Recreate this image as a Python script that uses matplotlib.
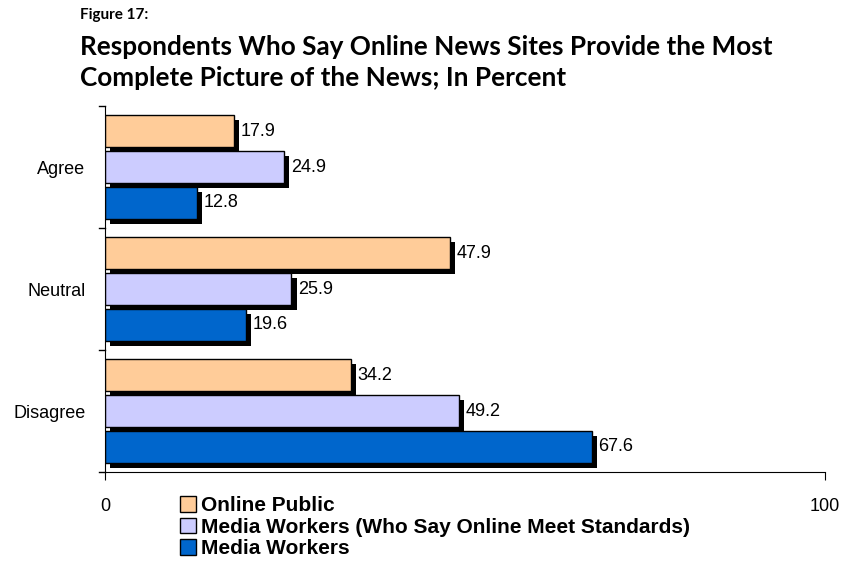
import numpy as np
import matplotlib
matplotlib.use('Agg')
from matplotlib import pyplot as plt

categories = ["Agree", "Neutral", "Disagree"]
series_names = ["Online Public",
                "Media Workers (Who Say Online Meet Standards)",
                "Media Workers"]
online_public = [17.9, 47.9, 34.2]
media_std = [24.9, 25.9, 49.2]
media_workers = [12.8, 19.6, 67.6]
colors = ["#FFCC99", "#CCCCFF", "#0066CC"]

fig = plt.figure(figsize=(8.43, 5.61), dpi=100)
ax = fig.add_axes([105/843, 1-472/561, 720/843, 366/561])

bar_h = 0.262
step = 0.295
sx, sy = 0.7, 0.04   # shadow offset in data units

all_series = [online_public, media_std, media_workers]
ycent = np.arange(len(categories))
for i, vals in enumerate(all_series):
    ys = ycent + (i - 1) * step
    # drop shadow
    ax.barh(ys + sy, np.array(vals), left=sx, height=bar_h, color="black", zorder=1)
    ax.barh(ys, vals, height=bar_h, color=colors[i], edgecolor="black",
            linewidth=1.0, zorder=2, label=series_names[i])
    for y, v in zip(ys, vals):
        ax.text(v + 0.9, y, f"{v:.1f}", va="center", ha="left",
                fontsize=13, family="Liberation Sans")

ax.set_xlim(0, 100)
ax.set_ylim(2.5, -0.5)
ax.set_xticks([0, 100])
ax.set_xticklabels(["0", "100"], fontsize=13, family="Liberation Sans")
ax.tick_params(axis="x", direction="out", length=6, pad=13)
ax.set_yticks(ycent)
ax.set_yticklabels(categories, fontsize=13, family="Liberation Sans")
ax.tick_params(axis="y", length=0, pad=14)
# boundary ticks on y axis
for b in [-0.5, 0.5, 1.5, 2.5]:
    ax.plot([-0.8, 0], [b, b], color="black", lw=1, clip_on=False)
ax.spines["top"].set_visible(False)
ax.spines["right"].set_visible(False)

leg = fig.legend(loc="upper left", bbox_to_anchor=(172/843, 1-488/561),
                 frameon=False, handlelength=0.75, handleheight=0.75,
                 handletextpad=0.25, labelspacing=0.12, borderaxespad=0,
                 prop={"family": "Liberation Sans", "weight": "bold", "size": 15})

fig.text(80/843, 1-15/561, "Figure 17:", fontsize=11, fontweight="bold",
         family="Lato", va="center")
fig.text(80/843, 1-47/561,
         "Respondents Who Say Online News Sites Provide the Most",
         fontsize=18.8, fontweight="bold", family="Lato", va="center")
fig.text(80/843, 1-78/561,
         "Complete Picture of the News; In Percent",
         fontsize=18.8, fontweight="bold", family="Lato", va="center")

plt.savefig("out.png", dpi=100)
